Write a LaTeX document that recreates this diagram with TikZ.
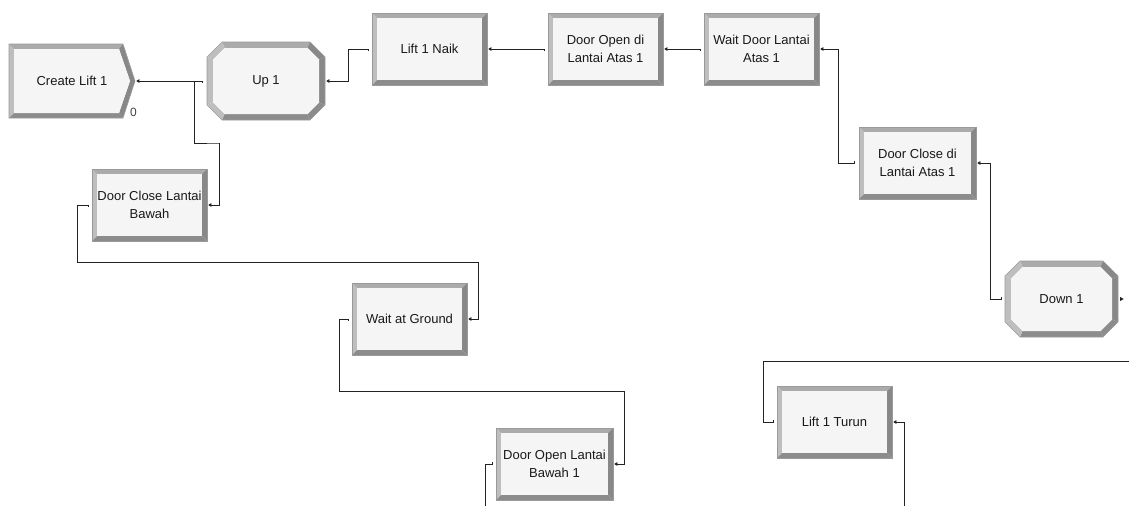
\documentclass[tikz,border=0pt]{standalone}
\usepackage{fontspec}
\setmainfont{Liberation Sans}
\usetikzlibrary{calc,arrows.meta}
\definecolor{bvL}{HTML}{BEBEBE}
\definecolor{bvT}{HTML}{ABABAB}
\definecolor{bvR}{HTML}{888888}
\definecolor{bvB}{HTML}{8C8C8C}
\definecolor{bvO}{HTML}{9A9A9A}
\definecolor{boxin}{HTML}{F5F5F5}
\definecolor{lineC}{HTML}{222222}
\tikzset{
  boxtext/.style={inner sep=0pt, align=center, text=black!90,
    font=\fontsize{13}{18}\selectfont},
  conn/.style={draw=lineC, line width=0.8pt},
  outtip/.style={{Triangle[length=3.2pt,width=3.6pt]}-},
}
% rectangle module: name, x1, y1, x2, y2, text
\newcommand{\arenabox}[6]{%
  \fill[bvL] (#2,#3) -- (#2+5,#3+5) -- (#2+5,#5-5) -- (#2,#5) -- cycle;
  \fill[bvT] (#2,#3) -- (#4,#3) -- (#4-5,#3+5) -- (#2+5,#3+5) -- cycle;
  \fill[bvR] (#4,#3) -- (#4,#5) -- (#4-5,#5-5) -- (#4-5,#3+5) -- cycle;
  \fill[bvB] (#2,#5) -- (#4,#5) -- (#4-5,#5-5) -- (#2+5,#5-5) -- cycle;
  \fill[boxin] (#2+5,#3+5) rectangle (#4-5,#5-5);
  \draw[bvO, line width=0.6pt] (#2,#3) rectangle (#4,#5);
  \node[boxtext, minimum width={#4-#2}, minimum height={#5-#3}] (#1)
    at ({(#2+#4)/2},{(#3+#5)/2}) {#6};
}
% octagon module: name, x1, y1, x2, y2, text (cut 15, bevel 6)
\newcommand{\arenaoct}[6]{%
  \fill[bvT] (#2+15,#3) -- (#4-15,#3) -- (#4-17.5,#3+6) -- (#2+17.5,#3+6) -- cycle;
  \fill[bvR] (#4-15,#3) -- (#4,#3+15) -- (#4-6,#3+17.5) -- (#4-17.5,#3+6) -- cycle;
  \fill[bvR] (#4,#3+15) -- (#4,#5-15) -- (#4-6,#5-17.5) -- (#4-6,#3+17.5) -- cycle;
  \fill[bvB] (#4,#5-15) -- (#4-15,#5) -- (#4-17.5,#5-6) -- (#4-6,#5-17.5) -- cycle;
  \fill[bvB] (#4-15,#5) -- (#2+15,#5) -- (#2+17.5,#5-6) -- (#4-17.5,#5-6) -- cycle;
  \fill[bvL] (#2+15,#5) -- (#2,#5-15) -- (#2+6,#5-17.5) -- (#2+17.5,#5-6) -- cycle;
  \fill[bvL] (#2,#5-15) -- (#2,#3+15) -- (#2+6,#3+17.5) -- (#2+6,#5-17.5) -- cycle;
  \fill[bvL] (#2,#3+15) -- (#2+15,#3) -- (#2+17.5,#3+6) -- (#2+6,#3+17.5) -- cycle;
  \fill[boxin] (#2+17.5,#3+6) -- (#4-17.5,#3+6) -- (#4-6,#3+17.5) -- (#4-6,#5-17.5)
     -- (#4-17.5,#5-6) -- (#2+17.5,#5-6) -- (#2+6,#5-17.5) -- (#2+6,#3+17.5) -- cycle;
  \draw[bvO, line width=0.6pt] (#2+15,#3) -- (#4-15,#3) -- (#4,#3+15) -- (#4,#5-15)
     -- (#4-15,#5) -- (#2+15,#5) -- (#2,#5-15) -- (#2,#3+15) -- cycle;
  \node[boxtext, minimum width={#4-#2}, minimum height={#5-#3}] (#1)
    at ({(#2+#4)/2},{(#3+#5)/2}) {#6};
}
\begin{document}
\begin{tikzpicture}[x=1pt,y=-1pt]
\useasboundingbox (0,0) rectangle (1129,506);
% Create module (pentagon)
\fill[bvL] (9,44) -- (14,49) -- (14,113) -- (9,118) -- cycle;
\fill[bvT] (9,44) -- (123,44) -- (119,49) -- (14,49) -- cycle;
\fill[bvR] (123,44) -- (135,81) -- (130,81) -- (119,49) -- cycle;
\fill[bvR] (135,81) -- (123,118) -- (119,113) -- (130,81) -- cycle;
\fill[bvB] (9,118) -- (123,118) -- (119,113) -- (14,113) -- cycle;
\fill[boxin] (14,49) -- (119,49) -- (130,81) -- (119,113) -- (14,113) -- cycle;
\draw[bvO, line width=0.6pt] (9,44) -- (123,44) -- (135,81) -- (123,118) -- (9,118) -- cycle;
\node[boxtext, minimum width=126, minimum height=74] (cl) at (72,81) {Create Lift 1};
\node[inner sep=0pt, text=black!75, font=\fontsize{12}{12}\selectfont] (zero) at (133.5,112) {0};

\arenaoct{up}{207}{42}{325}{120}{Up 1}
\arenabox{naik}{372}{13}{487}{85}{Lift 1 Naik}
\arenabox{doa}{548}{13}{663}{85}{Door Open di\\Lantai Atas 1}
\arenabox{wda}{704}{13}{819}{85}{Wait Door Lantai\\Atas 1}
\arenabox{dca}{859}{127}{976}{199}{Door Close di\\Lantai Atas 1}
\arenaoct{down}{1005}{261}{1118}{337}{Down 1}
\arenabox{turun}{777}{386}{892}{458}{Lift 1 Turun}
\arenabox{dclb}{92}{169}{207}{241}{Door Close Lantai\\Bawah}
\arenabox{wag}{352}{283}{467}{355}{Wait at Ground}
\arenabox{dolb}{496}{428}{613}{500}{Door Open Lantai\\Bawah 1}

% free ends
\coordinate (j) at (194,81);
\coordinate (rightin) at (1129,361);
\coordinate (turunout) at (904,506);
\coordinate (dolbin) at (485,506);

% connectors
\draw[conn, outtip] ($(cl.east)+(1,0)$) -- ($(up.west)+(-4,0)$) -- ++(0,2);
\draw[conn, outtip] ($(dclb.east)+(1,0)$) -- ++(11,0) |- ($(j)+(25,62)$) -| (j);
\draw[conn, outtip] ($(up.east)+(1,0)$) -- ++(22,0) |- ($(naik.west)+(-3,0)$) -- ++(0,2);
\draw[conn, outtip] ($(naik.east)+(1,0)$) -- ($(doa.west)+(-3,0)$) -- ++(0,2);
\draw[conn, outtip] ($(doa.east)+(1,0)$) -- ($(wda.west)+(-3,0)$) -- ++(0,2);
\draw[conn, outtip] ($(wda.east)+(1,0)$) -- ++(18,0) |- ($(dca.west)+(-4,0)$) -- ++(0,-2);
\draw[conn, outtip] ($(dca.east)+(1,0)$) -- ++(13,0) |- ($(down.west)+(-3,0)$) -- ++(0,-2);
\fill[lineC] ($(down.east)+(2,-2)$) -- ++(3.5,2) -- ++(-3.5,2) -- cycle;
\draw[conn] (rightin) -| ($(turun.west)+(-13,0)$) -- ($(turun.west)+(-3,0)$) -- ++(0,-2);
\draw[conn, outtip] ($(turun.east)+(1,0)$) -| (turunout);
\draw[conn, outtip] ($(dolb.east)+(1,0)$) -- ++(10,0) |- ($(wag.west)+(-12,72)$) |- ($(wag.west)+(-3,0)$) -- ++(0,2);
\draw[conn, outtip] ($(wag.east)+(1,0)$) -- ++(10,0) |- ($(dclb.west)+(-14,57)$) |- ($(dclb.west)+(-3,0)$) -- ++(0,2);
\draw[conn] (dolbin) |- ($(dolb.west)+(-3,0)$) -- ++(0,-2);
\end{tikzpicture}
\end{document}
